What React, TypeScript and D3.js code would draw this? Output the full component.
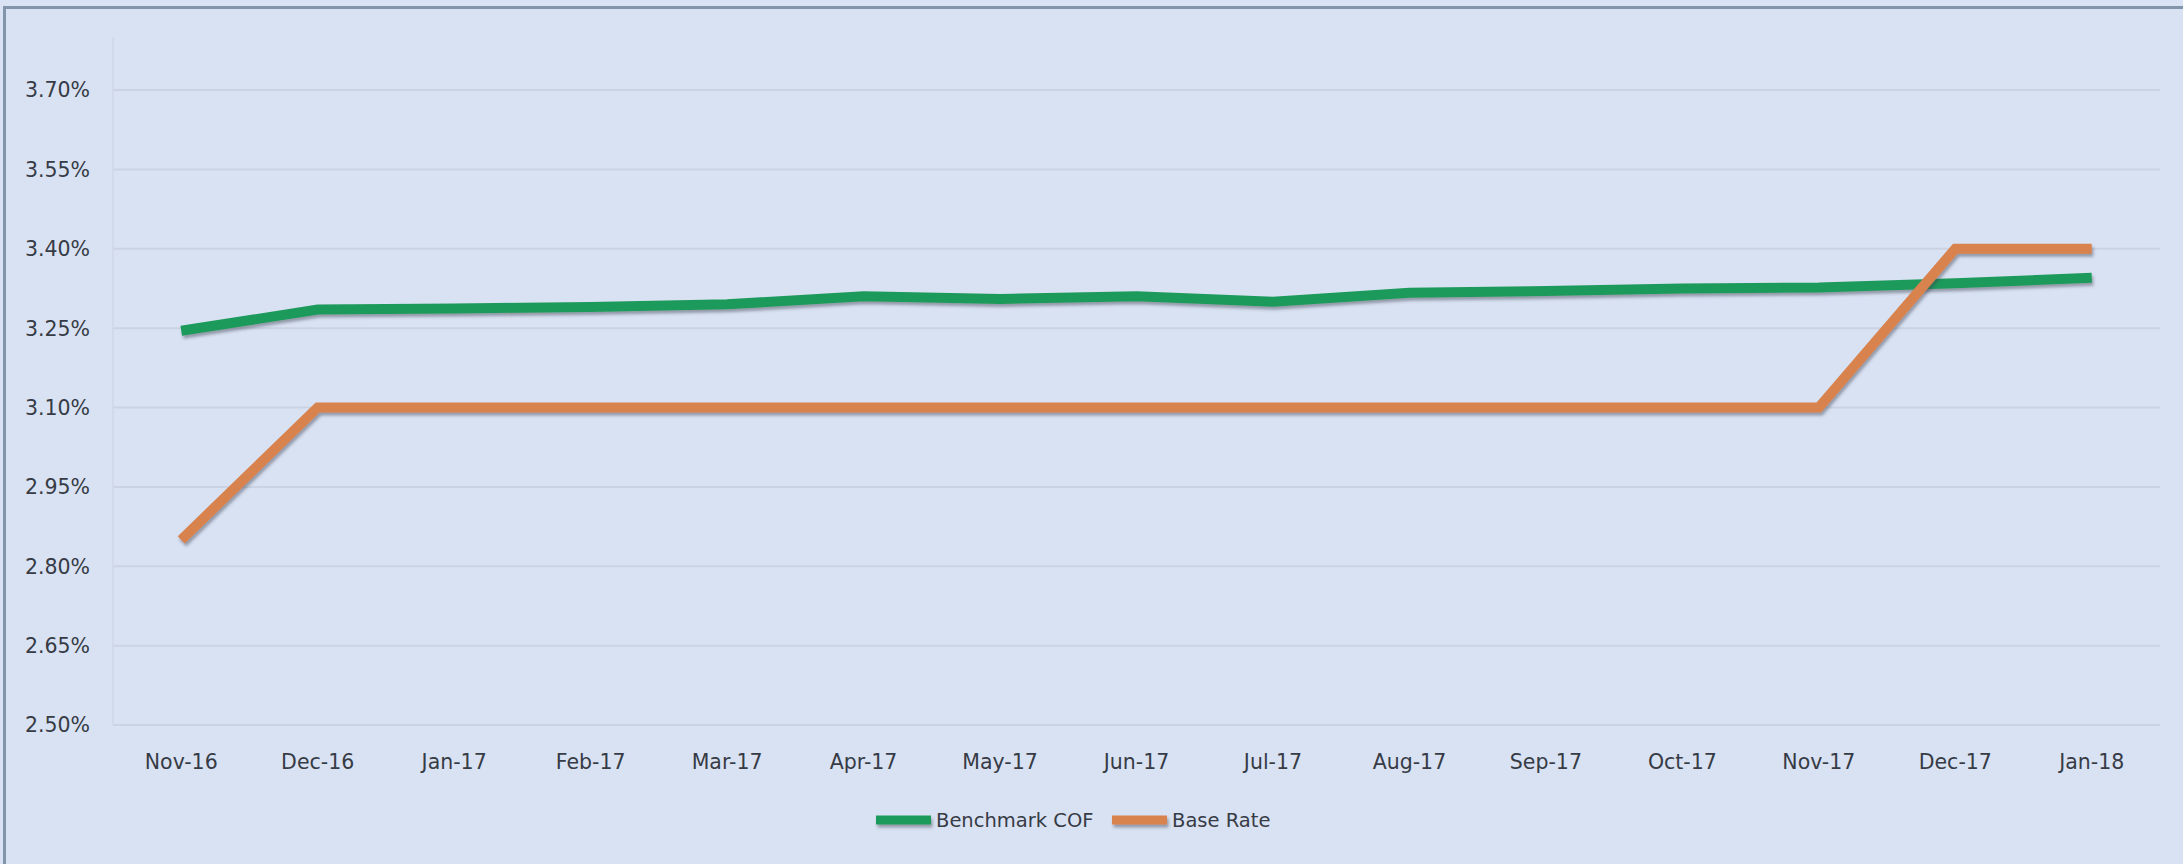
import React from 'react';
import * as d3 from 'd3';

const months = ['Nov-16', 'Dec-16', 'Jan-17', 'Feb-17', 'Mar-17', 'Apr-17', 'May-17', 'Jun-17', 'Jul-17', 'Aug-17', 'Sep-17', 'Oct-17', 'Nov-17', 'Dec-17', 'Jan-18'];
const benchmarkCOF = [3.245, 3.285, 3.287, 3.29, 3.295, 3.31, 3.305, 3.31, 3.30, 3.317, 3.32, 3.325, 3.327, 3.335, 3.345];
const baseRate = [2.85, 3.10, 3.10, 3.10, 3.10, 3.10, 3.10, 3.10, 3.10, 3.10, 3.10, 3.10, 3.10, 3.40, 3.40];
const yTicks = [2.50, 2.65, 2.80, 2.95, 3.10, 3.25, 3.40, 3.55, 3.70];

const W = 2183;
const H = 864;
const plot = { left: 113, right: 2160, top: 37, bottom: 726 };
const GREEN = '#1f9a5b';
const ORANGE = '#d8824e';
const FONT = '"DejaVu Sans", Verdana, sans-serif';

export default function App() {
    const x = d3.scaleBand<string>()
        .domain(months)
        .range([plot.left, plot.right]);

    const y = d3.scaleLinear()
        .domain([2.5, 3.7])
        .range([725, 90]);

    const cx = (m: string) => x(m)! + x.bandwidth() / 2;

    const line = d3.line<number>()
        .x((_, i) => cx(months[i]))
        .y(d => y(d));

    const series = [
        { name: 'Benchmark COF', values: benchmarkCOF, color: GREEN },
        { name: 'Base Rate', values: baseRate, color: ORANGE },
    ];

    // legend placement
    const legend = [
        { name: 'Benchmark COF', color: GREEN, x0: 876 },
        { name: 'Base Rate', color: ORANGE, x0: 1112 },
    ];

    return (
        <div style={{ position: 'fixed', left: 0, top: 0, width: W, height: H, overflow: 'hidden' }}>
            <svg width={W} height={H} style={{ display: 'block' }}>
                <defs>
                    <filter id="shadow" filterUnits="userSpaceOnUse" x={0} y={0} width={W} height={H}>
                        <feDropShadow dx="1.5" dy="3" stdDeviation="1.6" floodColor="#3a4250" floodOpacity="0.45" />
                    </filter>
                </defs>
                <rect x={0} y={0} width={W} height={H} fill="#dae3f3" />
                <rect x={4.5} y={7.5} width={W + 20} height={H + 20} fill="#d9e2f3" stroke="#8296ab" strokeWidth={3} />

                {/* gridlines */}
                {yTicks.map(t => (
                    <line key={t} x1={plot.left} x2={plot.right} y1={y(t)} y2={y(t)} stroke="#cbd3e2" strokeWidth={2} />
                ))}
                <line x1={plot.left} x2={plot.left} y1={plot.top} y2={y(2.5)} stroke="#cfd7e6" strokeWidth={1.5} />

                {/* y labels */}
                {yTicks.map(t => (
                    <text key={'l' + t} x={90} y={y(t)} dy="0.36em" textAnchor="end"
                        fontFamily={FONT} fontSize={20.5} fill="#363b45">
                        {d3.format('.2f')(t) + '%'}
                    </text>
                ))}

                {/* x labels */}
                {months.map(m => (
                    <text key={m} x={cx(m)} y={769} textAnchor="middle"
                        fontFamily={FONT} fontSize={20.5} fill="#363b45">
                        {m}
                    </text>
                ))}

                {/* lines */}
                {series.map(s => (
                    <path key={s.name} d={line(s.values)!} fill="none" stroke={s.color}
                        strokeWidth={10} strokeLinejoin="miter" strokeLinecap="butt" filter="url(#shadow)" />
                ))}

                {/* legend */}
                {legend.map(l => (
                    <g key={l.name}>
                        <line x1={l.x0} x2={l.x0 + 55} y1={820} y2={820} stroke={l.color} strokeWidth={9} filter="url(#shadow)" />
                        <text x={l.x0 + 60} y={820} dy="0.36em" fontFamily={FONT} fontSize={19.5} fill="#363b45">
                            {l.name}
                        </text>
                    </g>
                ))}
            </svg>
        </div>
    );
}
